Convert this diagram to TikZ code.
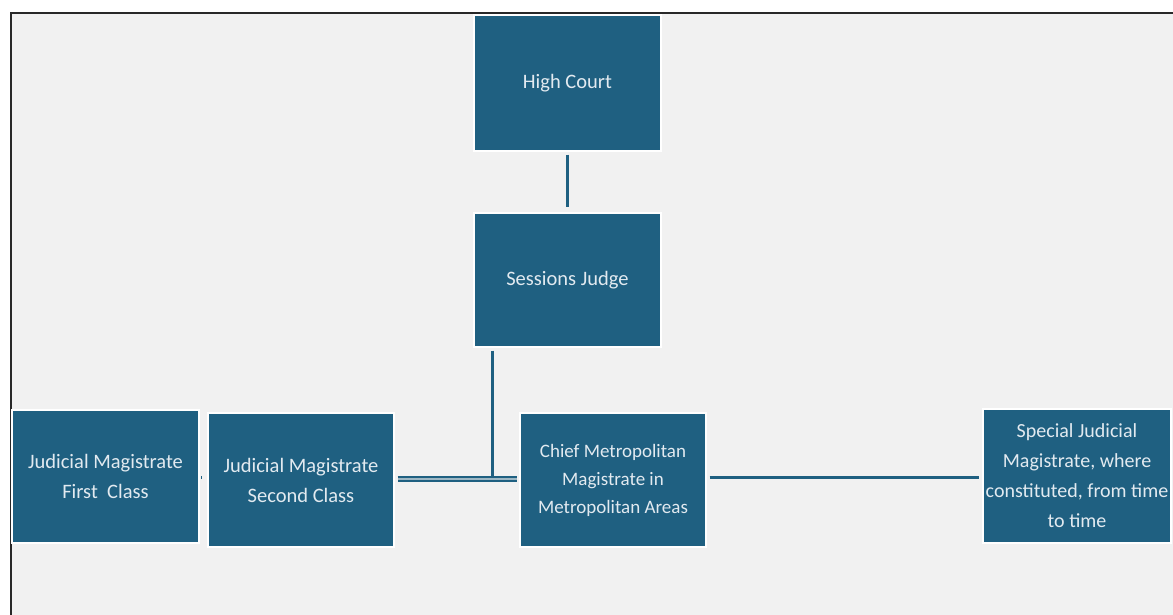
\documentclass[tikz,border=0pt]{standalone}
\usepackage{fontspec}
\setmainfont{Carlito}
\definecolor{boxblue}{RGB}{31,96,129}
\definecolor{boxtext}{RGB}{226,234,240}
\definecolor{bgray}{RGB}{241,241,241}
\definecolor{frame}{RGB}{40,40,40}
\begin{document}
\begin{tikzpicture}[x=1pt,y=-1pt,
  court/.style={draw=white, line width=1.2pt, fill=boxblue, text=boxtext, align=center,
    inner sep=1pt, font=\fontsize{20.5}{30}\selectfont},
  link/.style={draw=boxblue, line width=3pt},
  dlink/.style={draw=boxblue, line width=2.2pt, double=bgray!60!boxblue, double distance=1.2pt}]
\useasboundingbox (0,0) rectangle (1173,615);
\fill[white] (0,0) rectangle (1173,615);
\fill[bgray] (11,13) rectangle (1173,615);
\draw[frame, line width=2.6pt] (11,616) -- (11,13) -- (1174,13);
% boxes
\node[court, minimum width=187pt, minimum height=136pt] (hc) at (567.5,83) {High Court};
\node[court, minimum width=187pt, minimum height=134pt] (sj) at (567.5,280) {Sessions Judge};
\node[court, minimum width=187pt, minimum height=133pt] (jm1) at (105.5,476.5) {Judicial Magistrate\\First\ \ Class};
\node[court, minimum width=186pt, minimum height=134pt] (jm2) at (301,480) {Judicial Magistrate\\Second Class};
\node[court, minimum width=186pt, minimum height=134pt, font=\fontsize{19}{28}\selectfont] (cmm) at (613,480) {Chief Metropolitan\\Magistrate in\\Metropolitan Areas};
\node[court, minimum width=188pt, minimum height=134pt, font=\fontsize{20}{30}\selectfont] (sjm) at (1077,476) {Special Judicial\\Magistrate, where\\constituted, from time\\to time};
% connectors
\coordinate (j) at (492,479);
\draw[link] ([yshift=-3pt]hc.south) -- ([yshift=5pt]sj.north);
\draw[link] ([xshift=-75.5pt,yshift=-3pt]sj.south) -- (j);
\draw[dlink] ([xshift=3pt]jm2.east |- j) -- ([xshift=-2pt]cmm.west |- j);
\draw[link] ([xshift=3pt]cmm.east |- 0,477) -- ([xshift=-3pt]sjm.west |- 0,477);
\draw[boxblue, line width=3pt] ([xshift=2pt]jm1.east |- 0,477) -- ([xshift=-6pt]jm2.west |- 0,477);
\end{tikzpicture}
\end{document}
